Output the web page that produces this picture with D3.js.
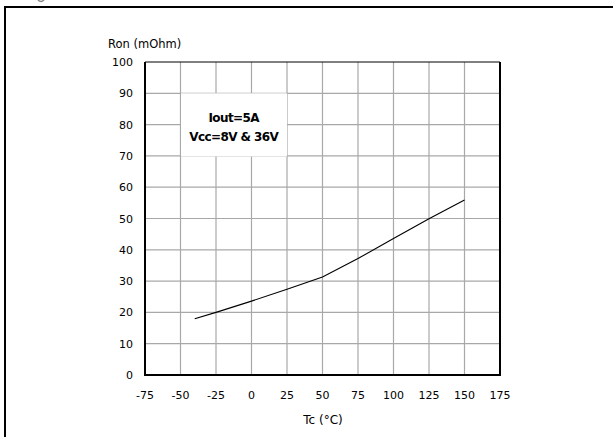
<!DOCTYPE html>
<html>
<head>
<meta charset="utf-8">
<script src="https://cdn.jsdelivr.net/npm/d3@7"></script>
<style>
  body { margin: 0; background: #fff; }
  svg { display: block; font-family: "DejaVu Sans", Verdana, sans-serif; }
</style>
</head>
<body>
<script>
const temps = [-40, -25, 0, 25, 50, 75, 100, 125, 150];
const ron = [18, 20, 23.6, 27.4, 31.3, 37.2, 43.6, 49.9, 55.9];
const xTicks = [-75, -50, -25, 0, 25, 50, 75, 100, 125, 150, 175];
const yTicks = [0, 10, 20, 30, 40, 50, 60, 70, 80, 90, 100];
const noteLines = ["Iout=5A", "Vcc=8V & 36V"];

const width = 613;
const height = 437;

const svg = d3
  .select("body")
  .append("svg")
  .attr("width", width)
  .attr("height", height);

// frame (the caption above is cut off, only a descender shows)
svg.append("path")
  .attr("d", "M38,0 Q41,3 44,0")
  .attr("fill", "none")
  .attr("stroke", "#888")
  .attr("stroke-width", 1.5);
svg.append("path")
  .attr("d", `M5,${height} V7 H${width}`)
  .attr("fill", "none")
  .attr("stroke", "#000")
  .attr("stroke-width", 2);

const xScale = d3.scaleLinear().domain([-75, 175]).range([145, 500]);
const yScale = d3.scaleLinear().domain([0, 100]).range([375, 62]);

// grid
svg.append("g")
  .selectAll("line")
  .data(xTicks.slice(1, -1))
  .join("line")
  .attr("x1", (d) => xScale(d)).attr("x2", (d) => xScale(d))
  .attr("y1", yScale(100)).attr("y2", yScale(0))
  .attr("stroke", "#a8a8a8").attr("stroke-width", 1.2);

svg.append("g")
  .selectAll("line")
  .data(yTicks.slice(1, -1))
  .join("line")
  .attr("x1", xScale(-75)).attr("x2", xScale(175))
  .attr("y1", (d) => yScale(d)).attr("y2", (d) => yScale(d))
  .attr("stroke", "#a8a8a8").attr("stroke-width", 1.2);

// note box
svg.append("rect")
  .attr("x", xScale(-50) + 0.5)
  .attr("y", yScale(90))
  .attr("width", xScale(25) - xScale(-50) - 0.5)
  .attr("height", yScale(70) - yScale(90) + 0.5)
  .attr("fill", "#fff");

svg.append("g")
  .selectAll("text")
  .data(noteLines)
  .join("text")
  .attr("x", (xScale(-50) + xScale(25)) / 2)
  .attr("y", (d, i) => 122 + i * 19)
  .attr("text-anchor", "middle")
  .style("font-size", "12px")
  .style("font-weight", "bold")
  .style("letter-spacing", "-0.6px")
  .text((d) => d);

// plot border
svg.append("line")
  .attr("x1", xScale(-75)).attr("x2", xScale(175))
  .attr("y1", yScale(100)).attr("y2", yScale(100))
  .attr("stroke", "#000").attr("stroke-width", 1);
svg.append("path")
  .attr("d", `M${xScale(-75)},${yScale(100)} V${yScale(0)} H${xScale(175)} V${yScale(100)}`)
  .attr("fill", "none")
  .attr("stroke", "#000")
  .attr("stroke-width", 2);

// data line
const line = d3.line()
  .x((d, i) => xScale(temps[i]))
  .y((d) => yScale(d));

svg.append("path")
  .datum(ron)
  .attr("d", line)
  .attr("fill", "none")
  .attr("stroke", "#000")
  .attr("stroke-width", 1.1);

// tick labels
svg.append("g")
  .selectAll("text")
  .data(yTicks)
  .join("text")
  .attr("x", 133)
  .attr("y", (d) => yScale(d) + 4)
  .attr("text-anchor", "end")
  .style("font-size", "11px")
  .text((d) => d);

svg.append("g")
  .selectAll("text")
  .data(xTicks)
  .join("text")
  .attr("x", (d) => xScale(d))
  .attr("y", 399)
  .attr("text-anchor", "middle")
  .style("font-size", "11px")
  .text((d) => d);

// axis titles
svg.append("text")
  .attr("x", 108).attr("y", 48)
  .style("font-size", "11.5px")
  .text("Ron (mOhm)");

svg.append("text")
  .attr("x", 323).attr("y", 424)
  .attr("text-anchor", "middle")
  .style("font-size", "12px")
  .text("Tc (°C)");
</script>
</body>
</html>
